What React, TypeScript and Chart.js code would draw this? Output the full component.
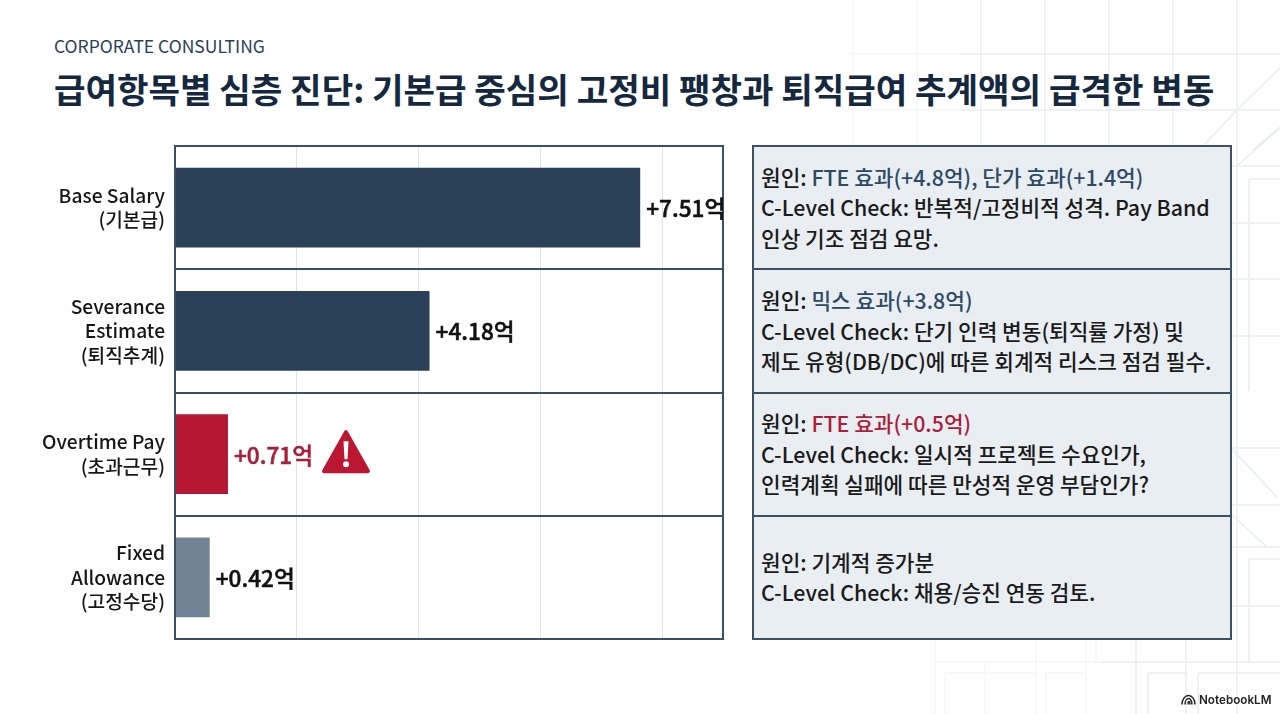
import React, { useEffect, useRef } from "react";
import { Chart, registerables } from "chart.js";

Chart.register(...registerables);

const FONT = '"Noto Sans CJK KR", "Noto Sans", sans-serif';

const eyebrow = "CORPORATE CONSULTING";
const title = "급여항목별 심층 진단: 기본급 중심의 고정비 팽창과 퇴직급여 추계액의 급격한 변동";
const categories = [
  ["Base Salary", "(기본급)"],
  ["Severance", "Estimate", "(퇴직추계)"],
  ["Overtime Pay", "(초과근무)"],
  ["Fixed", "Allowance", "(고정수당)"],
];
// Bar lengths as drawn against the chart's gridlines
const barLengths = [7.64, 4.18, 0.87, 0.57];
const valueLabels = ["+7.51억", "+4.18억", "+0.71억", "+0.42억"];
const barColors = ["#2a4057", "#2a4057", "#b61834", "#708496"];
const labelColors = ["#111111", "#111111", "#a81e3a", "#111111"];
const warningIndex = 2;

const NAVY = "#2c4a66";
const RED = "#ad1c38";

const details: { cause: [string, string?][]; check: string[] }[] = [
  {
    cause: [["원인: "], ["FTE 효과(+4.8억), 단가 효과(+1.4억)", NAVY]],
    check: ["C-Level Check: 반복적/고정비적 성격. Pay Band", "인상 기조 점검 요망."],
  },
  {
    cause: [["원인: "], ["믹스 효과(+3.8억)", NAVY]],
    check: ["C-Level Check: 단기 인력 변동(퇴직률 가정) 및", "제도 유형(DB/DC)에 따른 회계적 리스크 점검 필수."],
  },
  {
    cause: [["원인: "], ["FTE 효과(+0.5억)", RED]],
    check: ["C-Level Check: 일시적 프로젝트 수요인가,", "인력계획 실패에 따른 만성적 운영 부담인가?"],
  },
  {
    cause: [["원인: 기계적 증가분"]],
    check: ["C-Level Check: 채용/승진 연동 검토."],
  },
];

const backdropStrong: [number, number, number, number][] = [
  [1237, 0, 1237, 714], [981, 0, 981, 145], [1045, 0, 1045, 145], [1109, 0, 1109, 145], [1173, 0, 1173, 145],
  [960, 54, 1280, 54], [960, 110, 1280, 110],
  [1232, 166, 1280, 166], [1249, 179, 1280, 179], [1249, 179, 1249, 391],
  [1232, 223, 1280, 223], [1232, 279, 1280, 279], [1232, 336, 1280, 336],
  [1232, 448, 1280, 448], [1232, 505, 1280, 505], [1232, 547, 1280, 547], [1232, 606, 1280, 606],
  [1249, 559, 1280, 559], [1249, 559, 1249, 662],
  [1100, 662, 1280, 662], [1198, 673, 1280, 673], [1198, 673, 1198, 714],
  [1186, 640, 1186, 714], [1136, 640, 1136, 714], [1148, 673, 1186, 673], [1148, 673, 1148, 714],
  [1237, 110, 1204, 145], [1237, 110, 1280, 68], [1253, 150, 1280, 127], [1237, 166, 1280, 128],
  [1232, 449, 1277, 497], [1232, 515, 1267, 547],
];
const backdropFaint: [number, number, number, number][] = [
  [853, 0, 853, 145], [917, 0, 917, 145], [850, 54, 960, 54], [850, 110, 960, 110],
  [935, 640, 935, 714], [945, 673, 945, 714], [945, 673, 1036, 673], [985, 662, 985, 714],
  [1036, 640, 1036, 714], [1046, 673, 1046, 714], [1046, 673, 1086, 673], [1086, 640, 1086, 714], [1096, 640, 1096, 662],
  [935, 662, 1100, 662],
];

const valueLabelPlugin = {
  id: "valueLabels",
  afterDatasetsDraw(chart: any) {
    const { ctx, chartArea } = chart;
    // plot frame
    ctx.save();
    ctx.strokeStyle = "#3c5063";
    ctx.lineWidth = 2;
    ctx.strokeRect(chartArea.left, chartArea.top, chartArea.right - chartArea.left, chartArea.bottom - chartArea.top);
    ctx.restore();

    const meta = chart.getDatasetMeta(0);
    meta.data.forEach((bar: any, i: number) => {
      ctx.save();
      ctx.font = `500 22.6px ${FONT}`;
      ctx.fillStyle = labelColors[i];
      ctx.strokeStyle = labelColors[i];
      ctx.lineWidth = 0.5;
      ctx.textBaseline = "middle";
      ctx.textAlign = "left";
      const x = bar.x + 6;
      ctx.fillText(valueLabels[i], x, bar.y + 1);
      ctx.strokeText(valueLabels[i], x, bar.y + 1);
      if (i === warningIndex) {
        const w = ctx.measureText(valueLabels[i]).width;
        const left = x + w + 9;
        const top = bar.y - 24;
        const tw = 48;
        const th = 43;
        ctx.fillStyle = "#bb1733";
        ctx.strokeStyle = "#bb1733";
        ctx.lineWidth = 4;
        ctx.lineJoin = "round";
        ctx.beginPath();
        ctx.moveTo(left + tw / 2, top + 2);
        ctx.lineTo(left + tw - 2, top + th - 2);
        ctx.lineTo(left + 2, top + th - 2);
        ctx.closePath();
        ctx.fill();
        ctx.stroke();
        ctx.fillStyle = "#ffffff";
        ctx.beginPath();
        ctx.moveTo(left + tw / 2 - 2.5, top + 11);
        ctx.lineTo(left + tw / 2 + 2.5, top + 11);
        ctx.lineTo(left + tw / 2 + 1.5, top + 29);
        ctx.lineTo(left + tw / 2 - 1.5, top + 29);
        ctx.closePath();
        ctx.fill();
        ctx.beginPath();
        ctx.arc(left + tw / 2, top + 34, 3, 0, Math.PI * 2);
        ctx.fill();
      }
      ctx.restore();
    });
  },
};

export default function App() {
  const ref = useRef<HTMLCanvasElement>(null);

  useEffect(() => {
    document.body.style.margin = "0";
    document.body.style.background = "#ffffff";
    const chart = new Chart(ref.current as HTMLCanvasElement, {
      type: "bar",
      data: {
        labels: categories as any,
        datasets: [
          {
            data: barLengths,
            backgroundColor: barColors,
            categoryPercentage: 1,
            barPercentage: 0.648,
            borderWidth: 0,
          },
        ],
      },
      options: {
        indexAxis: "y",
        animation: false,
        responsive: false,
        layout: { padding: { left: 0, top: 146, right: 1280 - 723, bottom: 714 - 639 } },
        plugins: { legend: { display: false }, tooltip: { enabled: false } },
        scales: {
          x: {
            min: 0,
            max: 9,
            ticks: { display: false, stepSize: 2 },
            grid: { color: "#dfe4ea", lineWidth: 1, drawTicks: false },
            border: { display: false },
          },
          y: {
            offset: true,
            grid: { color: "#3c5063", lineWidth: 2, offset: true, drawTicks: false },
            border: { display: false },
            ticks: {
              padding: 10,
              color: "#161616",
              font: { family: FONT, size: 19.2, weight: "500", lineHeight: 1.28 },
            },
            afterFit(s: any) {
              s.width = 175;
            },
          },
        },
      },
      plugins: [valueLabelPlugin],
    } as any);
    return () => chart.destroy();
  }, []);

  return (
    <div style={{ position: "relative", width: 1280, height: 714, overflow: "hidden", background: "#fff", fontFamily: FONT }}>
      <svg width={1280} height={714} style={{ position: "absolute", left: 0, top: 0 }}>
        {backdropFaint.map((l, i) => (
          <line key={i} x1={l[0]} y1={l[1]} x2={l[2]} y2={l[3]} stroke="#f5f7f9" strokeWidth={1.5} />
        ))}
        {backdropStrong.map((l, i) => (
          <line key={i} x1={l[0]} y1={l[1]} x2={l[2]} y2={l[3]} stroke="#e9eef2" strokeWidth={1.5} />
        ))}
      </svg>

      <div style={{ position: "absolute", left: 54, top: 33, fontSize: 17.5, lineHeight: "26px", color: "#2a4057", whiteSpace: "nowrap" }}>
        {eyebrow}
      </div>
      <div style={{ position: "absolute", left: 54, top: 65, fontSize: 34.25, lineHeight: "46px", fontWeight: 700, color: "#14293f", whiteSpace: "nowrap" }}>
        {title}
      </div>

      <canvas ref={ref} width={1280} height={714} style={{ position: "absolute", left: 0, top: 0, width: 1280, height: 714 }} />

      <div
        style={{
          position: "absolute",
          left: 752,
          top: 145,
          width: 480,
          height: 495,
          boxSizing: "border-box",
          border: "2px solid #3c5063",
          background: "#e9eef3",
          display: "flex",
          flexDirection: "column",
        }}
      >
        {details.map((d, i) => (
          <div
            key={i}
            style={{
              flex: 1,
              boxSizing: "border-box",
              borderTop: i ? "2px solid #3c5063" : "none",
              display: "flex",
              flexDirection: "column",
              justifyContent: "center",
              paddingLeft: 7,
              fontSize: 21.35,
              fontWeight: 500,
              lineHeight: "30.5px",
              color: "#1a1a1a",
              whiteSpace: "nowrap",
            }}
          >
            <div>
              {d.cause.map((c, j) => (
                <span key={j} style={c[1] ? { color: c[1] } : undefined}>
                  {c[0]}
                </span>
              ))}
            </div>
            {d.check.map((t, j) => (
              <div key={j}>{t}</div>
            ))}
          </div>
        ))}
      </div>

      <svg width={15} height={11} viewBox="0 0 15 11" style={{ position: "absolute", left: 1181, top: 694 }}>
        <g fill="none" stroke="#222" strokeWidth={1.5}>
          <path d="M1 10.5 A6.5 9 0 0 1 14 10.5" />
          <path d="M4 10.5 A3.5 6 0 0 1 11 10.5" />
          <path d="M7 10.5 A1 3 0 0 1 9 10.5" />
        </g>
      </svg>
      <div style={{ position: "absolute", left: 1199, top: 691, fontFamily: "Inter, sans-serif", fontSize: 11.7, lineHeight: "18px", fontWeight: 600, color: "#222", whiteSpace: "nowrap" }}>
        NotebookLM
      </div>
    </div>
  );
}
